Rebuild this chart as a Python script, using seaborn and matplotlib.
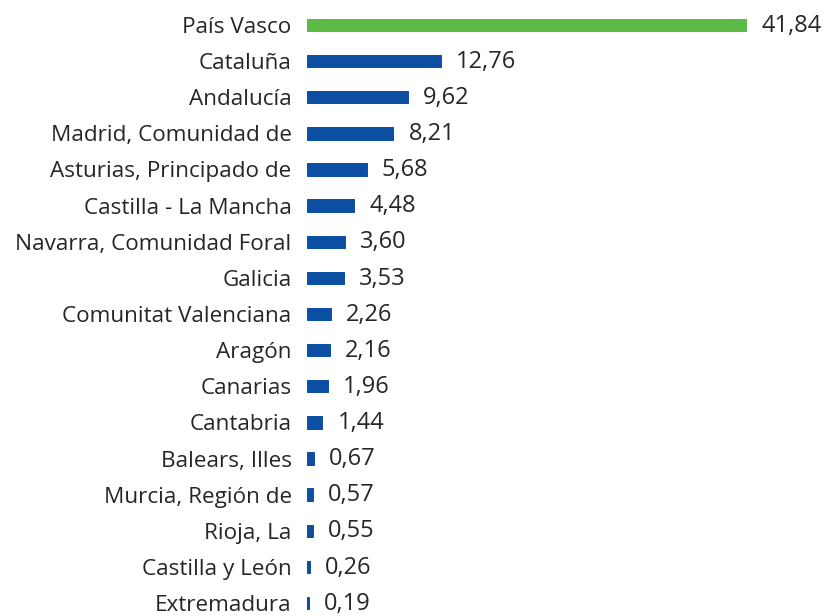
import numpy as np
import pandas as pd
import matplotlib
matplotlib.use("Agg")
import matplotlib.pyplot as plt
import seaborn as sns

regions = ["País Vasco", "Cataluña", "Andalucía", "Madrid, Comunidad de",
           "Asturias, Principado de", "Castilla - La Mancha",
           "Navarra, Comunidad Foral", "Galicia", "Comunitat Valenciana",
           "Aragón", "Canarias", "Cantabria", "Balears, Illes",
           "Murcia, Región de", "Rioja, La", "Castilla y León", "Extremadura"]
values = [41.84, 12.76, 9.62, 8.21, 5.68, 4.48, 3.60, 3.53, 2.26,
          2.16, 1.96, 1.44, 0.67, 0.57, 0.55, 0.26, 0.19]

df = pd.DataFrame({"region": regions, "valor": values})
colors = ["#5DBB46"] + ["#0B4EA2"] * (len(regions) - 1)

sns.set_style("white")
plt.rcParams["font.family"] = ["Open Sans", "DejaVu Sans"]

fig = plt.figure(figsize=(8.27, 6.16), dpi=100)
ax = fig.add_axes([307 / 827, 0, 453 / 827, 1])
sns.barplot(data=df, y="region", x="valor", hue="region", palette=colors,
            legend=False, width=0.34, ax=ax, saturation=1)
# thin edge so the tiny bars stay visible
for p, c in zip(ax.patches, colors):
    p.set_edgecolor(c)
    p.set_linewidth(0.7)

ax.set_xlim(0, 453 / 10.49)
ax.set_ylim(16 + 13 / 36.125, -25 / 36.125)
ax.set_xlabel("")
ax.set_ylabel("")
ax.set_xticks([])
ax.tick_params(axis="y", length=0, pad=11, labelsize=16.2, labelcolor="#262626")
for s in ax.spines.values():
    s.set_visible(False)

for i, v in enumerate(values):
    ax.annotate(f"{v:.2f}".replace(".", ","), (v, i), xytext=(11, -0.5),
                textcoords="offset points", va="center", ha="left",
                fontsize=17, color="#262626")

fig.savefig("out.png", dpi=100)
